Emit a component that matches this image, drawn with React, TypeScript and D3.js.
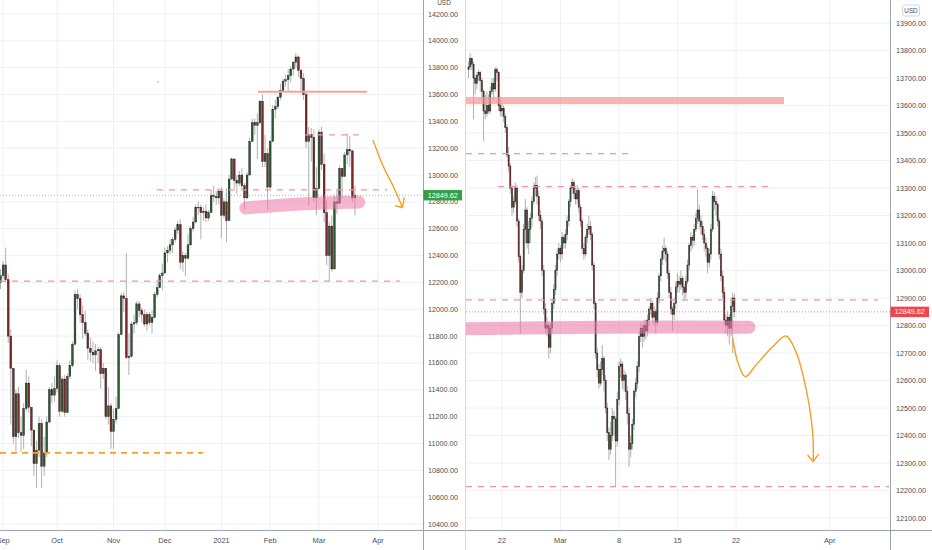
import React from "react";
import * as d3 from "d3";

type Bar = [number, number, number]; // high, low, close (open = previous close)

// ---- daily panel: Aug 31 2020 .. Mar 19 2021 ----
const dailyOpen = 12200;
const dailyBars: Bar[] = [
  // Aug 31 - Sep 4
  [12300, 12150, 12250], [12360, 12230, 12330], [12460, 12200, 12220], [12260, 11750, 11800], [11850, 11140, 11560],
  // Sep 8 - 11
  [11550, 11000, 11050], [11400, 10940, 11370], [11420, 11040, 11080], [11200, 10940, 11060],
  // Sep 14 - 18
  [11300, 10960, 11260], [11550, 11240, 11450], [11500, 11230, 11270], [11200, 10980, 11100], [11100, 10760, 10850],
  // Sep 21 - 25
  [11020, 10670, 10950], [11200, 10900, 11150], [11180, 10670, 10830], [11050, 10760, 10930], [11200, 10900, 11160],
  // Sep 28 - Oct 2
  [11420, 11150, 11400], [11450, 11300, 11360], [11500, 11310, 11410], [11620, 11380, 11580], [11600, 11200, 11240],
  // Oct 5 - 9
  [11500, 11230, 11480], [11510, 11200, 11230], [11520, 11230, 11500], [11620, 11480, 11580], [11760, 11570, 11740],
  // Oct 12 - 16
  [12140, 11730, 12110], [12150, 12000, 12080], [12110, 11900, 11960], [12030, 11780, 11900], [11990, 11800, 11820],
  // Oct 19 - 23
  [11850, 11620, 11710], [11790, 11610, 11680], [11760, 11600, 11660], [11740, 11540, 11690], [11720, 11600, 11700],
  // Oct 26 - 30
  [11720, 11410, 11520], [11600, 11480, 11560], [11560, 11180, 11200], [11420, 11140, 11280], [11300, 10960, 11090],
  // Nov 2 - 6
  [11260, 10960, 11180], [11350, 11150, 11260], [11830, 11400, 11810], [12120, 11900, 12100], [12130, 11980, 12080],
  // Nov 9 - 13
  [12420, 11630, 11640], [11820, 11510, 11650], [11910, 11640, 11890], [11960, 11820, 11900], [12060, 11880, 12040],
  // Nov 16 - 20
  [12060, 11940, 11990], [12010, 11900, 11960], [12000, 11870, 11890], [11980, 11840, 11960], [11980, 11880, 11900],
  // Nov 23 - 27
  [11990, 11820, 11940], [12130, 11930, 12110], [12200, 12090, 12160], [12270, 12170, 12250],
  // Nov 30 - Dec 4
  [12340, 12140, 12270], [12460, 12280, 12420], [12470, 12350, 12440], [12520, 12410, 12480], [12540, 12420, 12520],
  // Dec 7 - 11
  [12610, 12500, 12590], [12660, 12560, 12630], [12670, 12300, 12350], [12430, 12280, 12400], [12420, 12250, 12380],
  // Dec 14 - 18
  [12560, 12370, 12480], [12620, 12470, 12600], [12690, 12580, 12650], [12780, 12640, 12760], [12800, 12700, 12760],
  // Dec 21 - 24
  [12780, 12520, 12720], [12760, 12660, 12730], [12780, 12650, 12680], [12740, 12660, 12720],
  // Dec 28 - 31
  [12890, 12740, 12850], [12920, 12800, 12840], [12880, 12780, 12830], [12900, 12780, 12880],
  // Jan 4 - 8
  [12910, 12530, 12700], [12830, 12680, 12800], [12900, 12500, 12660], [13000, 12700, 12970], [13130, 12970, 13120],
  // Jan 11 - 15
  [13080, 12900, 12960], [13000, 12860, 12940], [13030, 12920, 13000], [13050, 12890, 12920], [12940, 12740, 12830],
  // Jan 19 - 22
  [13020, 12820, 13000], [13280, 13050, 13250], [13420, 13250, 13390], [13420, 13300, 13370],
  // Jan 25 - 29
  [13460, 13120, 13390], [13560, 13380, 13550], [13600, 13060, 13100], [13300, 13060, 13160], [13200, 12740, 12910],
  // Feb 1 - 5
  [13260, 12900, 13250], [13520, 13260, 13490], [13560, 13420, 13510], [13590, 13490, 13580], [13680, 13560, 13630],
  // Feb 8 - 12
  [13720, 13630, 13700], [13750, 13660, 13710], [13790, 13620, 13740], [13810, 13690, 13790], [13850, 13740, 13840],
  // Feb 16 - 19
  [13910, 13800, 13880], [13890, 13730, 13780], [13790, 13610, 13720], [13760, 13560, 13600],
  // Feb 22 - 26
  [13610, 13200, 13250], [13360, 12770, 13300], [13350, 13100, 13280], [13340, 12800, 12830], [13060, 12700, 12900],
  // Mar 1 - 5
  [13340, 12920, 13320], [13360, 13040, 13080], [13160, 12650, 12720], [12810, 12330, 12400], [12650, 12210, 12620],
  // Mar 8 - 12
  [12700, 12280, 12300], [12850, 12300, 12800], [12900, 12710, 12790], [13070, 12840, 13050], [13040, 12830, 12990],
  // Mar 15 - 19
  [13170, 12990, 13150], [13310, 13080, 13190], [13290, 13060, 13180], [13190, 12800, 12830], [12920, 12700, 12849.62],
];
const dailyTimeTicks = [
  { label: "Sep", i: 1 }, { label: "Oct", i: 22 }, { label: "Nov", i: 44 }, { label: "Dec", i: 64 },
  { label: "2021", i: 86 }, { label: "Feb", i: 105 }, { label: "Mar", i: 124 }, { label: "Apr", i: 147 },
];
const dailyPriceTicks = [
  14200, 14000, 13800, 13600, 13400, 13200, 13000, 12800, 12600, 12400,
  12200, 12000, 11800, 11600, 11400, 11200, 11000, 10800, 10600, 10400,
];

// ---- hourly panel: Feb 17 .. Mar 19 2021, bar 0 = first hour of Feb 22 ----
const hourlyFirst = -20;
const hourlyOpen = 13730;
const hourlyBars: Bar[] = [
  // Feb 17
  [13760, 13700, 13740], [13790, 13730, 13770], [13775, 13730, 13750], [13760, 13550, 13700], [13710, 13640, 13680], [13720, 13660, 13710],
  // Feb 18
  [13730, 13690, 13720], [13725, 13650, 13690], [13700, 13630, 13650], [13660, 13470, 13580], [13640, 13550, 13570], [13650, 13560, 13600], [13640, 13570, 13580],
  // Feb 19
  [13670, 13570, 13650], [13700, 13640, 13680], [13700, 13620, 13660], [13740, 13650, 13730], [13740, 13690, 13720], [13725, 13580, 13600], [13630, 13560, 13580],
  // Feb 22
  [13610, 13560, 13590], [13600, 13540, 13560], [13570, 13500, 13520], [13530, 13410, 13420], [13450, 13360, 13380], [13390, 13280, 13300], [13310, 13200, 13230],
  // Feb 23
  [13270, 13210, 13250], [13320, 13240, 13300], [13310, 13160, 13180], [13190, 13030, 13050], [13060, 12770, 12920], [13020, 12900, 13000], [13170, 12990, 13150],
  // Feb 24
  [13260, 13100, 13220], [13230, 13080, 13100], [13180, 13060, 13150], [13210, 13100, 13190], [13270, 13160, 13250], [13320, 13240, 13300], [13340, 13270, 13310],
  // Feb 25
  [13345, 13240, 13270], [13290, 13180, 13200], [13220, 13150, 13180], [13190, 12980, 13000], [13020, 12840, 12860], [12880, 12770, 12790], [12830, 12760, 12800],
  // Feb 26
  [12810, 12680, 12720], [12810, 12700, 12790], [12900, 12770, 12880], [12950, 12860, 12930], [13020, 12910, 13000], [13080, 12980, 13060], [13100, 13040, 13080],
  // Mar 1
  [13090, 13030, 13060], [13140, 13040, 13120], [13130, 13080, 13100], [13150, 13080, 13130], [13200, 13110, 13180], [13260, 13160, 13250], [13310, 13230, 13300],
  // Mar 2
  [13335, 13280, 13320], [13330, 13260, 13280], [13300, 13240, 13260], [13310, 13240, 13290], [13300, 13210, 13230], [13240, 13160, 13180], [13190, 13060, 13080],
  // Mar 3
  [13100, 13040, 13060], [13130, 13050, 13120], [13170, 13100, 13150], [13200, 13130, 13160], [13180, 13110, 13130], [13140, 13000, 13020], [13030, 12860, 12880],
  // Mar 4
  [12890, 12680, 12700], [12720, 12610, 12640], [12660, 12570, 12590], [12670, 12580, 12640], [12730, 12620, 12680], [12690, 12560, 12600], [12620, 12480, 12500],
  // Mar 5
  [12520, 12380, 12410], [12430, 12310, 12350], [12450, 12330, 12400], [12500, 12380, 12470], [12490, 12400, 12460], [12470, 12215, 12380], [12560, 12360, 12530],
  // Mar 8
  [12670, 12510, 12650], [12680, 12610, 12660], [12670, 12570, 12600], [12640, 12560, 12620], [12630, 12530, 12560], [12580, 12440, 12480], [12500, 12285, 12350],
  // Mar 9
  [12400, 12320, 12370], [12460, 12350, 12440], [12570, 12420, 12560], [12610, 12540, 12590], [12670, 12570, 12650], [12780, 12630, 12760], [12810, 12740, 12790],
  // Mar 10
  [12800, 12720, 12760], [12820, 12740, 12800], [12820, 12750, 12780], [12840, 12760, 12820], [12870, 12800, 12860], [12900, 12840, 12880], [12890, 12810, 12830],
  // Mar 11
  [12870, 12800, 12850], [12860, 12770, 12810], [12920, 12800, 12900], [12990, 12880, 12980], [13050, 12960, 13040], [13090, 13020, 13070], [13120, 13040, 13080],
  // Mar 12
  [13090, 13030, 13060], [13070, 12970, 12990], [13000, 12900, 12920], [12940, 12840, 12860], [12870, 12780, 12840], [12900, 12820, 12880], [12960, 12860, 12940],
  // Mar 15
  [12990, 12920, 12960], [12980, 12920, 12950], [13000, 12930, 12970], [12980, 12910, 12940], [12950, 12890, 12920], [12980, 12900, 12960], [13040, 12950, 13020],
  // Mar 16
  [13100, 13000, 13090], [13140, 13070, 13120], [13130, 13080, 13110], [13170, 13090, 13150], [13210, 13140, 13190], [13295, 13170, 13220], [13240, 13150, 13180],
  // Mar 17
  [13200, 13130, 13160], [13180, 13110, 13130], [13150, 13070, 13100], [13120, 13050, 13080], [13090, 12990, 13030], [13080, 13010, 13060], [13170, 13040, 13150],
  // Mar 18
  [13290, 13140, 13270], [13285, 13220, 13250], [13270, 13200, 13240], [13250, 13160, 13180], [13190, 13040, 13060], [13080, 12960, 12980], [13000, 12900, 12920],
  // Mar 19
  [12940, 12800, 12820], [12840, 12770, 12800], [12850, 12760, 12830], [12840, 12730, 12790], [12900, 12760, 12870], [12920, 12700, 12900], [12915, 12830, 12849.62],
];
const hourlyTimeTicks = [
  { label: "22", i: 0 }, { label: "Mar", i: 35 }, { label: "8", i: 70 },
  { label: "15", i: 105 }, { label: "22", i: 140 }, { label: "Apr", i: 196 },
];
const hourlyPriceTicks = [
  13900, 13800, 13700, 13600, 13500, 13400, 13300, 13200, 13100, 13000,
  12900, 12800, 12700, 12600, 12500, 12400, 12300, 12200, 12100,
];

const lastPrice = 12849.62;

// ---- drawings (bar index, price) ----
const dailySolidLevels = [{ price: 13620, from: 100.3, to: 142.7 }];
const dailyDashedLevels = [
  { price: 13300, from: 118.6, to: 141.2 },
  { price: 12890, from: 60.9, to: 150.5 },
  { price: 12210, from: -0.2, to: 155.5 },
];
const dailyOrangeLevels = [{ price: 10930, from: -0.2, to: 78.8 }];
const dailyZone: [number, number][] = [[95.5, 12755], [116.6, 12785], [139.5, 12800]];
const dailyArrow: [number, number][] = [[145.0, 13261], [149.1, 13062], [153.0, 12913], [156.4, 12764]];
const dailyArrowHead: [number, number][] = [[153.6, 12772], [156.5, 12758], [157.2, 12834]];

const hourlyBand = { top: 13631, bottom: 13605, from: -21.5, to: 168.7 };
const hourlyDashedLevels = [
  { price: 13425, from: -21.5, to: 77.8 },
  { price: 13305, from: -2.4, to: 159.1 },
  { price: 12893, from: -21.5, to: 224.9 },
  { price: 12214, from: -21.5, to: 231.5 },
];
const hourlyZone: [number, number][] = [[-25, 12788], [60, 12794], [147.7, 12794]];
const hourlyArrow: [number, number][] = [
  [138.0, 12754], [141.0, 12668], [145.5, 12614], [151.9, 12656], [161.9, 12723],
  [169.9, 12762], [175.8, 12705], [181.8, 12572], [185.8, 12414], [186.2, 12311],
];
const hourlyArrowHead: [number, number][] = [[182.8, 12329], [186.2, 12305], [189.4, 12332]];

const UP = "#2a5c33";
const DOWN = "#7f2729";
const WICK = "#9c9c9c";
const GRID = "#eef0f4";
const AXIS = "#a0a3aa";
const LABEL = "#4a4d57";
const PINK = "#f393a8";
const ORANGE = "#f5a020";
const FONT = "'Liberation Sans', Arial, sans-serif";

type Scale = d3.ScaleLinear<number, number>;

function Candles({ bars, open, first, x, y, width }: {
  bars: Bar[]; open: number; first: number; x: Scale; y: Scale; width: number;
}) {
  let prev = open;
  return (
    <g>
      {bars.map(([h, l, c], k) => {
        const o = prev;
        prev = c;
        const cx = x(first + k);
        const top = y(Math.max(o, c));
        const bh = Math.max(0.7, y(Math.min(o, c)) - top);
        return (
          <g key={k}>
            <line x1={cx} x2={cx} y1={y(h)} y2={y(l)} stroke={WICK} strokeWidth={0.8} />
            <rect x={cx - width / 2} y={top} width={width} height={bh}
              fill={c >= o ? UP : DOWN} stroke="#1a1a1a" strokeWidth={0.4} />
          </g>
        );
      })}
    </g>
  );
}

export default function App() {
  const W = 932;
  const H = 550;
  const axisY = 530;

  const lx = d3.scaleLinear().domain([-0.2, 164.5]).range([0, 423]);
  const ly = d3.scaleLinear().domain([10400, 14200]).range([524, 14]);
  const rx = d3.scaleLinear().domain([-21.5, 232.1]).range([466, 890]);
  const ry = d3.scaleLinear().domain([12100, 13900]).range([518, 23]);

  const lline = d3.line<[number, number]>().x((d) => lx(d[0])).y((d) => ly(d[1])).curve(d3.curveCatmullRom);
  const rline = d3.line<[number, number]>().x((d) => rx(d[0])).y((d) => ry(d[1])).curve(d3.curveCatmullRom);
  const lpoly = d3.line<[number, number]>().x((d) => lx(d[0])).y((d) => ly(d[1]));
  const rpoly = d3.line<[number, number]>().x((d) => rx(d[0])).y((d) => ry(d[1]));

  return (
    <div style={{ position: "absolute", left: 0, top: 0 }}>
      <svg width={W} height={H} style={{ display: "block", background: "#fff" }} fontFamily={FONT}>
        <defs>
          <clipPath id="clipL"><rect x={0} y={0} width={423} height={axisY} /></clipPath>
          <clipPath id="clipR"><rect x={466} y={0} width={424} height={axisY} /></clipPath>
        </defs>

        {/* ---------- left (daily) ---------- */}
        <g clipPath="url(#clipL)">
          {dailyPriceTicks.map((p) => (
            <line key={p} x1={0} x2={423} y1={ly(p)} y2={ly(p)} stroke={GRID} />
          ))}
          {dailyTimeTicks.map((t) => (
            <line key={t.label} x1={lx(t.i)} x2={lx(t.i)} y1={0} y2={axisY} stroke={GRID} />
          ))}
          <Candles bars={dailyBars} open={dailyOpen} first={0} x={lx} y={ly} width={1.8} />
          {dailySolidLevels.map((d, k) => (
            <line key={k} x1={lx(d.from)} x2={lx(d.to)} y1={ly(d.price)} y2={ly(d.price)}
              stroke="#f6a19c" strokeWidth={2} />
          ))}
          {dailyDashedLevels.map((d, k) => (
            <line key={k} x1={lx(d.from)} x2={lx(d.to)} y1={ly(d.price)} y2={ly(d.price)}
              stroke={PINK} strokeWidth={1.2} strokeDasharray="6,6" />
          ))}
          {dailyOrangeLevels.map((d, k) => (
            <line key={k} x1={lx(d.from)} x2={lx(d.to)} y1={ly(d.price)} y2={ly(d.price)}
              stroke={ORANGE} strokeWidth={1.8} strokeDasharray="6,5" />
          ))}
          <path d={lline(dailyZone) ?? ""} fill="none" stroke="#ec78a8" strokeOpacity={0.55}
            strokeWidth={13} strokeLinecap="round" />
          <path d={lline(dailyArrow) ?? ""} fill="none" stroke={ORANGE} strokeWidth={1.4} />
          <path d={lpoly(dailyArrowHead) ?? ""} fill="none" stroke={ORANGE} strokeWidth={1.4} />
          <circle cx={lx(61.3)} cy={ly(13693)} r={0.8} fill="#999" />
          <line x1={0} x2={423} y1={ly(lastPrice)} y2={ly(lastPrice)} stroke="#8a8d96"
            strokeWidth={0.7} strokeDasharray="1,2" />
        </g>

        {/* left axes */}
        <line x1={0} x2={466} y1={axisY + 0.5} y2={axisY + 0.5} stroke={AXIS} />
        <line x1={423.5} x2={423.5} y1={0} y2={H} stroke={AXIS} />
        <line x1={465.5} x2={465.5} y1={0} y2={H} stroke="#d6d8dd" />
        {dailyPriceTicks.map((p) => (
          <text key={p} x={428} y={ly(p)} dy="0.35em" fontSize={7.2} fill={LABEL}>
            {p.toFixed(2)}
          </text>
        ))}
        {dailyTimeTicks.map((t) => (
          <text key={t.label} x={lx(t.i)} y={543} textAnchor="middle" fontSize={7.4} fill={LABEL}>
            {t.label}
          </text>
        ))}
        <text x={444} y={5} textAnchor="middle" fontSize={6.5} fill={LABEL}>USD</text>
        <rect x={423.5} y={ly(lastPrice) - 5.2} width={38.5} height={10.4} fill="#32a146" />
        <text x={442.7} y={ly(lastPrice)} dy="0.35em" textAnchor="middle" fontSize={7.2}
          fill="#fff">{lastPrice.toFixed(2)}</text>

        {/* ---------- right (hourly) ---------- */}
        <g clipPath="url(#clipR)">
          {hourlyPriceTicks.map((p) => (
            <line key={p} x1={466} x2={890} y1={ry(p)} y2={ry(p)} stroke={GRID} />
          ))}
          {hourlyTimeTicks.map((t) => (
            <line key={t.i} x1={rx(t.i)} x2={rx(t.i)} y1={0} y2={axisY} stroke={GRID} />
          ))}
          <Candles bars={hourlyBars} open={hourlyOpen} first={hourlyFirst} x={rx} y={ry} width={1.2} />
          <rect x={rx(hourlyBand.from)} y={ry(hourlyBand.top)}
            width={rx(hourlyBand.to) - rx(hourlyBand.from)}
            height={ry(hourlyBand.bottom) - ry(hourlyBand.top)} fill="#f59896" fillOpacity={0.72} />
          {hourlyDashedLevels.map((d, k) => (
            <line key={k} x1={rx(d.from)} x2={rx(d.to)} y1={ry(d.price)} y2={ry(d.price)}
              stroke={PINK} strokeWidth={1.2} strokeDasharray="6,6" />
          ))}
          <path d={rline(hourlyZone) ?? ""} fill="none" stroke="#ec78a8" strokeOpacity={0.58}
            strokeWidth={13} strokeLinecap="round" />
          <path d={rline(hourlyArrow) ?? ""} fill="none" stroke={ORANGE} strokeWidth={1.4} />
          <path d={rpoly(hourlyArrowHead) ?? ""} fill="none" stroke={ORANGE} strokeWidth={1.4} />
          <line x1={466} x2={890} y1={ry(lastPrice)} y2={ry(lastPrice)} stroke="#f04a52"
            strokeWidth={0.7} strokeDasharray="1,2" />
        </g>

        {/* right axes */}
        <line x1={466} x2={W} y1={axisY + 0.5} y2={axisY + 0.5} stroke={AXIS} />
        <line x1={890.5} x2={890.5} y1={0} y2={H} stroke={AXIS} />
        {hourlyPriceTicks.map((p) => (
          <text key={p} x={896} y={ry(p)} dy="0.35em" fontSize={7.2} fill={LABEL}>
            {p.toFixed(2)}
          </text>
        ))}
        {hourlyTimeTicks.map((t) => (
          <text key={t.i} x={rx(t.i)} y={543} textAnchor="middle" fontSize={7.4} fill={LABEL}>
            {t.label}
          </text>
        ))}
        <rect x={902.5} y={5} width={17} height={11} rx={2} fill="#fff" stroke="#c9cbd1" strokeWidth={0.8} />
        <text x={911} y={10.5} dy="0.35em" textAnchor="middle" fontSize={6.3} fill={LABEL}>USD</text>
        <rect x={890.5} y={ry(lastPrice) - 5.2} width={38.5} height={10.4} fill="#ef454d" />
        <text x={909.7} y={ry(lastPrice)} dy="0.35em" textAnchor="middle" fontSize={7.2}
          fill="#fff">{lastPrice.toFixed(2)}</text>
      </svg>
    </div>
  );
}
